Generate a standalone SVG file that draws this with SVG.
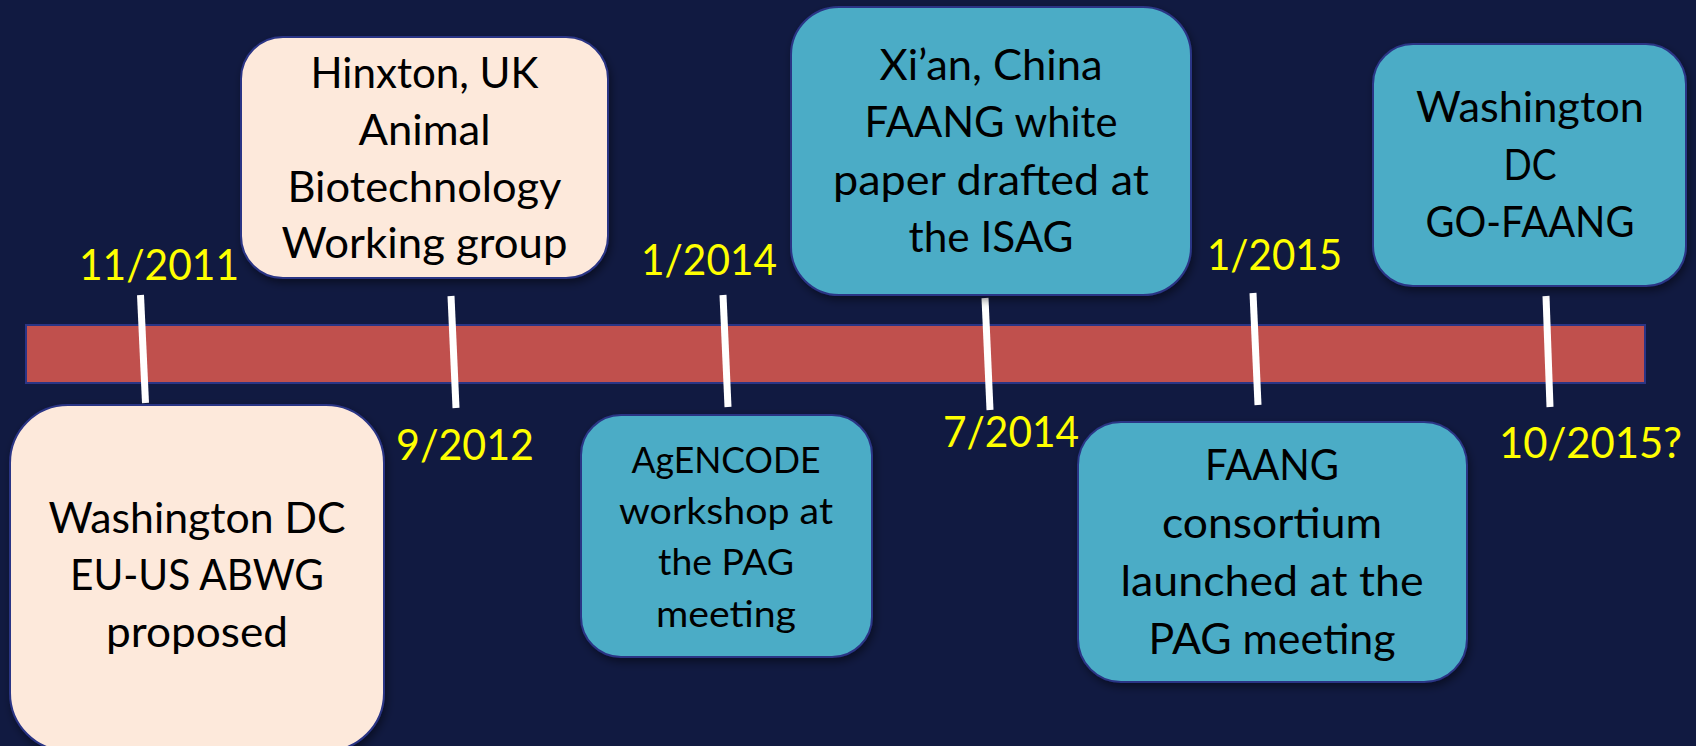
<svg xmlns="http://www.w3.org/2000/svg" width="1696" height="746" viewBox="0 0 1696 746">
<defs>
<filter id="sh" x="-10%" y="-10%" width="130%" height="130%">
<feDropShadow dx="2" dy="4" stdDeviation="4" flood-color="#000" flood-opacity="0.45"/>
</filter>
<style>
.peach{fill:#FDE9DB;stroke:#2B3585;stroke-width:2;filter:url(#sh)}
.teal{fill:#4BACC6;stroke:#2B3585;stroke-width:2;filter:url(#sh)}
.t{font-family:Lato,"Liberation Sans",sans-serif;font-size:42px;fill:#000;text-anchor:middle}
.ts{font-family:Lato,"Liberation Sans",sans-serif;font-size:37px;fill:#000;text-anchor:middle}
.d{font-family:Lato,"Liberation Sans",sans-serif;font-size:42px;fill:#FFFF00}
.tick{stroke:#fff;stroke-width:7}
</style>
</defs>
<rect width="1696" height="746" fill="#111A41"/>
<g id="timeline">
<rect x="26" y="325" width="1619" height="58" fill="#C0504D" stroke="#2B3585" stroke-width="2"/>
</g>
<g id="connectors">
<line class="tick" x1="140.5" y1="295" x2="145.5" y2="403"/>
<line class="tick" x1="451" y1="296" x2="456" y2="408"/>
<line class="tick" x1="723" y1="295" x2="728" y2="407"/>
<line class="tick" x1="985" y1="298" x2="990" y2="410"/>
<line class="tick" x1="1253" y1="293" x2="1258" y2="405"/>
<line class="tick" x1="1546" y1="296" x2="1550" y2="407"/>
</g>
<g id="dates">
<text class="d" x="79" y="280" textLength="160" lengthAdjust="spacingAndGlyphs">11/2011</text>
<text class="d" x="396" y="460" textLength="138" lengthAdjust="spacingAndGlyphs">9/2012</text>
<text class="d" x="641" y="275" textLength="136" lengthAdjust="spacingAndGlyphs">1/2014</text>
<text class="d" x="943" y="447" textLength="136" lengthAdjust="spacingAndGlyphs">7/2014</text>
<text class="d" x="1207" y="270" textLength="135" lengthAdjust="spacingAndGlyphs">1/2015</text>
<text class="d" x="1499" y="458" textLength="183" lengthAdjust="spacingAndGlyphs">10/2015?</text>
</g>
<g id="node-hinxton">
<rect class="peach" x="241" y="37" width="367" height="241" rx="42"/>
<text class="t" x="424.5" y="88" textLength="228" lengthAdjust="spacingAndGlyphs">Hinxton, UK</text>
<text class="t" x="424.5" y="145" textLength="132" lengthAdjust="spacingAndGlyphs">Animal</text>
<text class="t" x="424.5" y="202" textLength="274" lengthAdjust="spacingAndGlyphs">Biotechnology</text>
<text class="t" x="424.5" y="258" textLength="286" lengthAdjust="spacingAndGlyphs">Working group</text>
</g>
<g id="node-washington-2011">
<rect class="peach" x="10" y="405" width="374" height="346" rx="58"/>
<text class="t" x="197" y="533" textLength="297" lengthAdjust="spacingAndGlyphs">Washington DC</text>
<text class="t" x="197" y="590" textLength="254" lengthAdjust="spacingAndGlyphs">EU-US ABWG</text>
<text class="t" x="197" y="647" textLength="182" lengthAdjust="spacingAndGlyphs">proposed</text>
</g>
<g id="node-agencode">
<rect class="teal" x="581" y="415" width="291" height="242" rx="40"/>
<text class="ts" x="726" y="473" textLength="189" lengthAdjust="spacingAndGlyphs">AgENCODE</text>
<text class="ts" x="726" y="524" textLength="214" lengthAdjust="spacingAndGlyphs">workshop at</text>
<text class="ts" x="726" y="575" textLength="136" lengthAdjust="spacingAndGlyphs">the PAG</text>
<text class="ts" x="726" y="627" textLength="140" lengthAdjust="spacingAndGlyphs">meeting</text>
</g>
<g id="node-xian">
<rect class="teal" x="791" y="7" width="400" height="288" rx="48"/>
<text class="t" x="991" y="80" textLength="223" lengthAdjust="spacingAndGlyphs">Xi’an, China</text>
<text class="t" x="991" y="137" textLength="253" lengthAdjust="spacingAndGlyphs">FAANG white</text>
<text class="t" x="991" y="195" textLength="316" lengthAdjust="spacingAndGlyphs">paper drafted at</text>
<text class="t" x="991" y="252" textLength="165" lengthAdjust="spacingAndGlyphs">the ISAG</text>
</g>
<g id="node-faang-consortium">
<rect class="teal" x="1078" y="422" width="389" height="260" rx="43"/>
<text class="t" x="1272" y="480" textLength="134" lengthAdjust="spacingAndGlyphs">FAANG</text>
<text class="t" x="1272" y="538" textLength="220" lengthAdjust="spacingAndGlyphs">consortium</text>
<text class="t" x="1272" y="596" textLength="303" lengthAdjust="spacingAndGlyphs">launched at the</text>
<text class="t" x="1272" y="654" textLength="247" lengthAdjust="spacingAndGlyphs">PAG meeting</text>
</g>
<g id="node-go-faang">
<rect class="teal" x="1373" y="44" width="313" height="242" rx="40"/>
<text class="t" x="1530" y="122" textLength="228" lengthAdjust="spacingAndGlyphs">Washington</text>
<text class="t" x="1530" y="180" textLength="53" lengthAdjust="spacingAndGlyphs">DC</text>
<text class="t" x="1530" y="237" textLength="209" lengthAdjust="spacingAndGlyphs">GO-FAANG</text>
</g>
</svg>
